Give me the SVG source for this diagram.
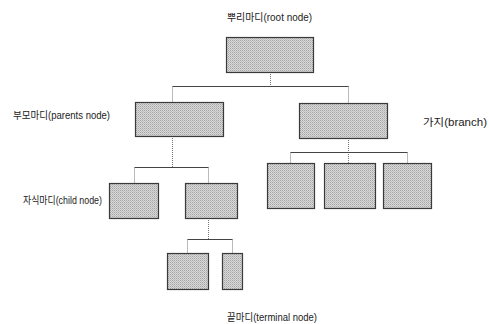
<svg xmlns="http://www.w3.org/2000/svg" width="489" height="324" viewBox="0 0 489 324">
<defs>
<pattern id="stip" width="2" height="2" patternUnits="userSpaceOnUse">
<rect width="2" height="2" fill="#d9d9d9"/>
<rect x="0" y="0" width="1" height="1" fill="#a4a4a4"/>
<rect x="1" y="1" width="1" height="1" fill="#bdbdbd"/>
</pattern>
</defs>
<style>
.node{fill:url(#stip);stroke:#3a3a3a;stroke-width:1.2}
.h{fill:none;stroke:#444;stroke-width:1}
.v{fill:none;stroke:#777;stroke-width:1;stroke-dasharray:1 1}
.lbl{font-family:"Liberation Sans","Noto Sans CJK KR",sans-serif;font-size:10px;fill:#222}
</style>
<rect width="489" height="324" fill="#fff"/>
<g id="connectors">
<path class="v" d="M270.5 72 V86.5"/>
<path class="h" d="M172.5 86.5 H348.5"/>
<path class="v" d="M172.5 86.5 V102 M348.5 86.5 V103"/>
<path class="v" d="M172.5 136 V167.5"/>
<path class="h" d="M134.5 167.5 H208.5"/>
<path class="v" d="M134.5 167.5 V183 M208.5 167.5 V183"/>
<path class="v" d="M348.5 138 V163"/>
<path class="h" d="M290.5 152.5 H407.5"/>
<path class="v" d="M290.5 152.5 V163 M407.5 152.5 V163"/>
<path class="v" d="M208.5 218 V239.5"/>
<path class="h" d="M187.5 239.5 H232.5"/>
<path class="v" d="M187.5 239.5 V253 M232.5 239.5 V253"/>
</g>
<g id="root"><rect class="node" x="226.5" y="37.5" width="87" height="35"/></g>
<g id="parent-left"><rect class="node" x="135.5" y="102.5" width="88" height="34"/></g>
<g id="parent-right"><rect class="node" x="299.5" y="103.5" width="88" height="35"/></g>
<g id="child-left"><rect class="node" x="109.5" y="183.5" width="49" height="35"/></g>
<g id="child-right"><rect class="node" x="185.5" y="183.5" width="52" height="35"/></g>
<g id="branch-1"><rect class="node" x="267.5" y="163.5" width="47" height="45"/></g>
<g id="branch-2"><rect class="node" x="324.5" y="163.5" width="51" height="45"/></g>
<g id="branch-3"><rect class="node" x="383.5" y="163.5" width="48" height="45"/></g>
<g id="terminal-1"><rect class="node" x="167.5" y="253.5" width="41" height="36"/></g>
<g id="terminal-2"><rect class="node" x="222.5" y="253.5" width="20" height="36"/></g>
<g id="labels">
<text class="lbl" x="227" y="21" textLength="85" lengthAdjust="spacingAndGlyphs">뿌리마디(root node)</text>
<text class="lbl" x="13" y="119" textLength="97" lengthAdjust="spacingAndGlyphs">부모마디(parents node)</text>
<text class="lbl" x="423" y="126" textLength="64" lengthAdjust="spacingAndGlyphs">가지(branch)</text>
<text class="lbl" x="23" y="204" textLength="79" lengthAdjust="spacingAndGlyphs">자식마디(child node)</text>
<text class="lbl" x="227" y="321" textLength="90" lengthAdjust="spacingAndGlyphs">끝마디(terminal node)</text>
</g>
</svg>
